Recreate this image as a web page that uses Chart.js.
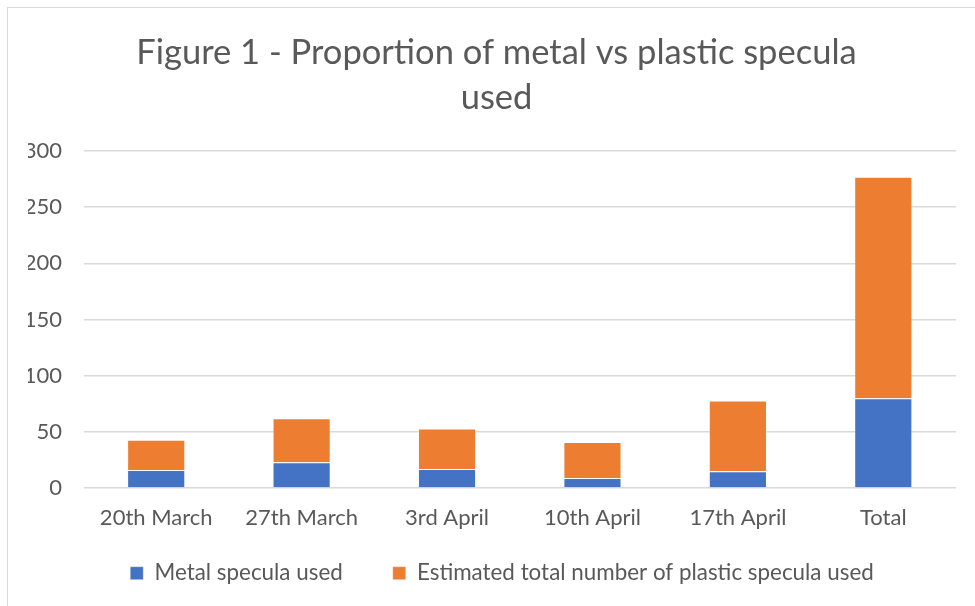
<!DOCTYPE html>
<html>
<head>
<meta charset="utf-8">
<script src="https://cdn.jsdelivr.net/npm/chart.js@4"></script>
<style>
  html, body { margin: 0; padding: 0; background: #fff; }
  #wrap { position: relative; width: 975px; height: 606px; }
  #frame { position: absolute; left: 7px; top: 7px; right: 0; bottom: 0;
           border-top: 1px solid #d9d9d9; border-left: 1px solid #d9d9d9; }
  canvas { position: absolute; left: 0; top: 0; }
</style>
</head>
<body>
<div id="wrap">
  <div id="frame"></div>
  <canvas id="c" width="975" height="606"></canvas>
</div>
<script>
const categories = ['20th March', '27th March', '3rd April', '10th April', '17th April', 'Total'];
const metalUsed = [16, 23, 17, 9, 15, 80];
const plasticUsed = [27, 39, 36, 32, 63, 197];
const yTicks = [0, 50, 100, 150, 200, 250, 300];

const FONT = 'Lato, "Open Sans", sans-serif';
const TEXT = '#595959';
const GRID = '#d9d9d9';

// Fine placement of the title and legend boxes after Chart.js has laid them out
const boxNudge = {
  id: 'boxNudge',
  afterLayout(chart) {
    const t = chart.titleBlock;
    if (t) { t.left += 4.5; t.right += 4.5; }
    const l = chart.legend;
    if (l) { l.top -= 21; l.bottom -= 21; l.left += 10; l.right += 10; }
  }
};

new Chart(document.getElementById('c'), {
  type: 'bar',
  data: {
    labels: categories,
    datasets: [
      { label: 'Metal specula used', data: metalUsed, backgroundColor: '#4472C4',
        borderColor: 'rgba(255,255,255,0.35)', borderWidth: 1 },
      { label: 'Estimated total number of plastic specula used', data: plasticUsed, backgroundColor: '#ED7D31',
        borderColor: 'rgba(255,255,255,0.35)', borderWidth: 1 }
    ]
  },
  plugins: [boxNudge],
  options: {
    responsive: false,
    animation: false,
    layout: { padding: { left: 28, right: 19, top: 30, bottom: 0 } },
    datasets: { bar: { barPercentage: 0.4, categoryPercentage: 1.0 } },
    plugins: {
      title: {
        display: true,
        text: ['Figure 1 - Proportion of metal vs plastic specula', 'used'],
        color: TEXT,
        font: { family: FONT, size: 34.5, weight: 'normal', lineHeight: 45 / 34.5 },
        padding: { top: 0, bottom: 31 }
      },
      legend: {
        position: 'bottom',
        maxHeight: 73,
        labels: {
          color: TEXT,
          font: { family: FONT, size: 22.4 },
          boxWidth: 13, boxHeight: 13,
          padding: 50
        }
      },
      tooltip: { enabled: false }
    },
    scales: {
      x: {
        stacked: true,
        afterFit: (axis) => { axis.height = 45; },
        grid: { display: false, drawTicks: false },
        border: { display: false },
        ticks: { color: TEXT, font: { family: FONT, size: 22 }, padding: 17, maxRotation: 0 }
      },
      y: {
        stacked: true,
        min: 0, max: 300,
        afterBuildTicks: (axis) => { axis.ticks = yTicks.map(v => ({ value: v })); },
        afterFit: (axis) => { axis.width = 55.5; },
        grid: { color: GRID, lineWidth: 1.5, drawTicks: false },
        border: { display: false },
        ticks: { color: TEXT, font: { family: FONT, size: 22 }, padding: 21.5 }
      }
    }
  }
});
</script>
</body>
</html>
